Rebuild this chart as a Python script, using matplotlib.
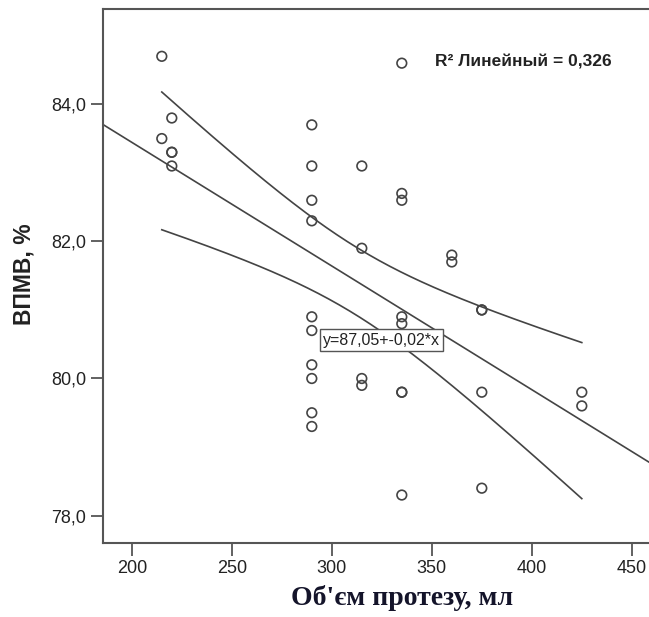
import numpy as np
import matplotlib
matplotlib.use("Agg")
import matplotlib.pyplot as plt

# volume of prosthesis (ml) and ВПМВ (%)
volume = [215, 215,
          220, 220, 220, 220,
          290, 290, 290, 290, 290, 290, 290, 290, 290, 290,
          315, 315, 315, 315,
          335, 335, 335, 335, 335, 335, 335, 335,
          360, 360,
          375, 375, 375, 375,
          425, 425]
vpmv = [84.7, 83.5,
        83.8, 83.3, 83.3, 83.1,
        83.7, 83.1, 82.6, 82.3, 80.9, 80.7, 80.2, 80.0, 79.5, 79.3,
        83.1, 81.9, 80.0, 79.9,
        84.6, 82.7, 82.6, 80.9, 80.8, 79.8, 79.8, 78.3,
        81.8, 81.7,
        81.0, 81.0, 79.8, 78.4,
        79.8, 79.6]

x_ticks = [200, 250, 300, 350, 400, 450]
y_ticks = [78.0, 80.0, 82.0, 84.0]

x = np.array(volume, dtype=float)
y = np.array(vpmv)

# linear fit + 95% confidence band for the mean
n = len(x)
b1, b0 = np.polyfit(x, y, 1)
resid = y - (b0 + b1 * x)
s = np.sqrt(np.sum(resid**2) / (n - 2))
sxx = np.sum((x - x.mean())**2)
t = 2.032  # t(0.975, 34)

fig = plt.figure(figsize=(6.49, 6.17), dpi=100)
ax = fig.add_axes([0.1587, 0.1199, 0.8413, 0.8655])

xlim = (185.6, 458.6)
xx = np.linspace(xlim[0], xlim[1], 200)
ax.plot(xx, b0 + b1 * xx, color="#444444", lw=1.2)

xb = np.linspace(x.min(), x.max(), 200)
half = t * s * np.sqrt(1 / n + (xb - x.mean())**2 / sxx)
ax.plot(xb, b0 + b1 * xb + half, color="#444444", lw=1.2)
ax.plot(xb, b0 + b1 * xb - half, color="#444444", lw=1.2)

ax.scatter(x, y, s=48, facecolors="none", edgecolors="#444444", linewidths=1.2, zorder=3)

ax.set_xlim(*xlim)
ax.set_ylim(77.6, 85.39)
ax.set_xticks(x_ticks)
ax.set_yticks(y_ticks)
ax.set_yticklabels([f"{v:.1f}".replace(".", ",") for v in y_ticks])
ax.tick_params(length=9, width=1.3, color="#555555", labelsize=13, pad=3,
               labelcolor="#222222")
for lab in ax.get_xticklabels() + ax.get_yticklabels():
    lab.set_family("Liberation Sans")

for side in ["left", "bottom", "top"]:
    ax.spines[side].set_color("#555555")
    ax.spines[side].set_linewidth(1.5)
ax.spines["right"].set_visible(False)

ax.text(351.6, 84.62, "R² Линейный = 0,326", fontsize=12.5, fontweight="bold",
        family=["Liberation Sans Narrow", "Liberation Sans"], va="center", color="#222222")
ax.text(325, 80.56, "y=87,05+-0,02*x", fontsize=11.5, family="Liberation Sans",
        ha="center", va="center", color="#222222",
        bbox=dict(boxstyle="square,pad=0.2", fc="white", ec="#555555", lw=1.0))

fig.text(0.037, 0.555, "ВПМВ, %", rotation=90, fontsize=16.5, fontweight="bold",
         family="Liberation Sans", ha="center", va="center", color="#222222")
fig.text(0.619, 0.03, "Об'єм протезу, мл", fontsize=20, fontweight="bold",
         family="Liberation Serif", ha="center", va="center", color="#14142a")

fig.savefig("out.png", dpi=100)
